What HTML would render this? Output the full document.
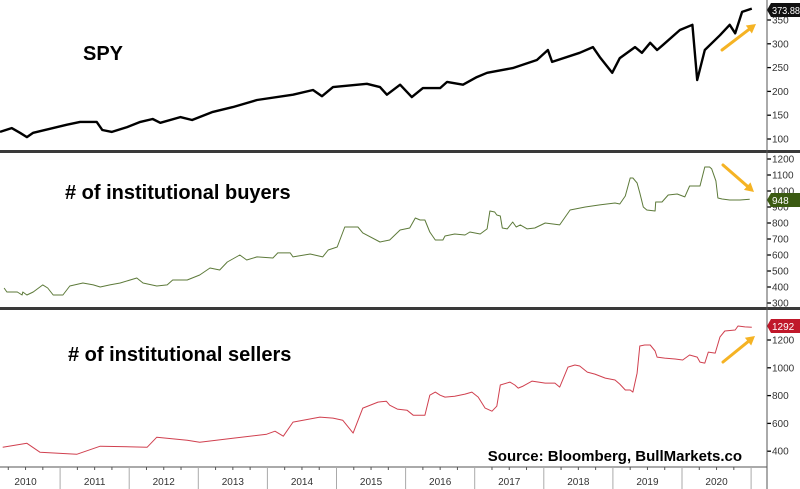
<!DOCTYPE html>
<html><head><meta charset="utf-8"><style>
html,body{margin:0;padding:0;background:#fff;}
svg{display:block;font-family:"Liberation Sans",sans-serif;}
</style></head><body>
<svg id="c" width="800" height="489" viewBox="0 0 800 489">
<rect width="800" height="489" fill="#fff"/>
</svg>
<script>
const spyDates=[2010.13,2010.30,2010.42,2010.52,2010.61,2011.10,2011.29,2011.53,2011.61,2011.75,2011.97,2012.16,2012.34,2012.45,2012.74,2012.91,2013.21,2013.50,2013.85,2014.37,2014.66,2014.79,2014.95,2015.44,2015.63,2015.73,2015.92,2016.09,2016.25,2016.50,2016.60,2016.83,2017.03,2017.18,2017.55,2017.90,2018.06,2018.12,2018.52,2018.71,2018.81,2018.99,2019.10,2019.32,2019.42,2019.54,2019.64,2019.72,2019.97,2020.15,2020.22,2020.33,2020.55,2020.69,2020.77,2020.87,2021.01];
const spyValues=[115,123,113,104,113,130,136,136,119,115,125,136,142,134,146,140,157,167,182,193,203,190,209,216,209,193,214,188,207,207,220,214,230,239,249,266,287,262,281,293,272,239,270,293,281,302,287,297,329,340,224,287,318,340,322,367,374];
const buyDates=[2010.19,2010.23,2010.38,2010.45,2010.46,2010.52,2010.61,2010.75,2010.82,2010.90,2011.04,2011.14,2011.33,2011.48,2011.58,2011.72,2011.87,2012.11,2012.20,2012.40,2012.55,2012.63,2012.84,2013.02,2013.17,2013.31,2013.42,2013.60,2013.70,2013.85,2014.08,2014.15,2014.33,2014.37,2014.62,2014.80,2014.88,2015.01,2015.12,2015.31,2015.38,2015.63,2015.77,2015.92,2016.06,2016.14,2016.21,2016.28,2016.35,2016.43,2016.54,2016.57,2016.71,2016.86,2016.93,2017.08,2017.18,2017.22,2017.29,2017.32,2017.37,2017.40,2017.47,2017.55,2017.60,2017.66,2017.76,2017.87,2018.02,2018.23,2018.38,2018.60,2018.81,2019.03,2019.10,2019.18,2019.25,2019.29,2019.35,2019.39,2019.44,2019.49,2019.61,2019.62,2019.71,2019.80,2019.93,2020.04,2020.11,2020.26,2020.33,2020.40,2020.43,2020.49,2020.52,2020.58,2020.69,2020.84,2020.98];
const buyValues=[394,369,369,350,369,350,369,413,394,350,350,406,425,413,400,413,425,456,425,406,413,444,444,475,519,506,556,600,569,588,581,613,613,588,606,588,631,650,775,775,738,681,694,756,769,831,819,819,744,694,694,719,731,725,744,731,763,875,869,850,844,769,763,806,775,788,763,769,800,788,881,900,913,925,919,969,1081,1081,1050,988,900,881,875,931,931,975,981,963,1031,1031,1150,1150,1138,1063,956,950,944,944,948];
const sellDates=[2010.17,2010.52,2010.71,2011.24,2011.58,2012.26,2012.40,2012.84,2013.02,2013.50,2013.99,2014.11,2014.23,2014.37,2014.76,2014.95,2015.09,2015.24,2015.38,2015.60,2015.72,2015.77,2015.88,2016.02,2016.11,2016.28,2016.35,2016.43,2016.50,2016.57,2016.71,2016.86,2016.96,2017.05,2017.15,2017.25,2017.32,2017.37,2017.51,2017.58,2017.63,2017.70,2017.83,2018.02,2018.16,2018.23,2018.35,2018.45,2018.52,2018.63,2018.74,2018.89,2019.03,2019.10,2019.18,2019.25,2019.29,2019.35,2019.39,2019.46,2019.54,2019.61,2019.64,2019.75,2019.90,2020.01,2020.11,2020.22,2020.26,2020.33,2020.38,2020.48,2020.55,2020.62,2020.77,2020.81,2020.91,2021.01];
const sellValues=[429,457,392,378,436,429,501,479,465,493,522,544,508,609,645,638,623,530,710,753,760,731,703,695,659,659,803,825,803,789,796,811,825,789,710,688,724,876,897,876,854,868,904,890,890,861,1005,1020,1013,969,955,926,912,883,840,840,825,962,1157,1164,1164,1121,1077,1070,1063,1056,1092,1077,1041,1034,1113,1106,1222,1265,1272,1301,1294,1292];
const spyTicks=[100,150,200,250,300,350];
const buyTicks=[300,400,500,600,700,800,900,1000,1100,1200];
const sellTicks=[400,600,800,1000,1200];
const yearLabels=["2010","2011","2012","2013","2014","2015","2016","2017","2018","2019","2020"];

const NS="http://www.w3.org/2000/svg";
const svg=document.getElementById('c');
function mk(tag,attrs,parent){const e=document.createElementNS(NS,tag);for(const k in attrs)e.setAttribute(k,attrs[k]);(parent||svg).appendChild(e);return e;}
const AX=767;
const xS=t=>-9+(t-2010)*69.1;
const panels=[
 {name:'spy',dates:spyDates,vals:spyValues,ticks:spyTicks,y:v=>20+(350-v)*0.476,col:'#000',w:2.4,tag:'373.88',tagBg:'#111',tagY:10,title:'SPY',tx:83,ty:60},
 {name:'buyers',dates:buyDates,vals:buyValues,ticks:buyTicks,y:v=>159+(1200-v)*0.16,col:'#5d7a3a',w:1,tag:'948',tagBg:'#3b5a12',tagY:200,title:'# of institutional buyers',tx:65,ty:199},
 {name:'sellers',dates:sellDates,vals:sellValues,ticks:sellTicks,y:v=>340+(1200-v)*0.139,col:'#d0404f',w:1,tag:'1292',tagBg:'#c0182a',tagY:326,title:'# of institutional sellers',tx:68,ty:361}
];
panels.forEach(p=>{
 const g=mk('g',{});
 
 
 p.ticks.forEach(v=>{
  const y=p.y(v);
  const t=mk('line',{x1:AX,x2:AX+4,y1:y,y2:y,stroke:'#000','stroke-width':1.3},g);
  
  
  const l=mk('text',{x:AX+5,y:y+3.5,'font-size':10,fill:'#333'},g);
  l.textContent=v;
  
  
 });
 const d=p.dates.map((t,i)=>(i?'L':'M')+xS(t).toFixed(1)+','+p.y(p.vals[i]).toFixed(1)).join('');
 const path=mk('path',{d:d,fill:'none',stroke:p.col,'stroke-width':p.w,'stroke-linejoin':'round'},g);
 
 
 const ti=mk('text',{x:p.tx,y:p.ty,'font-size':20,'font-weight':'bold',fill:'#000'},g);
 ti.textContent=p.title;
 
 
 const ty=p.tagY;
 const tg=mk('path',{d:`M${AX},${ty} L${AX+4},${ty-7} L800,${ty-7} L800,${ty+7} L${AX+4},${ty+7} Z`,fill:p.tagBg},g);
 
 
 const ta={x:AX+5,y:ty+4,'font-size':10,fill:'#fff'};
 if(p.tag.length>4){ta.textLength=28;ta.lengthAdjust='spacingAndGlyphs';}
 const tt=mk('text',ta,g);
 tt.textContent=p.tag;
 
 
});
[151,308].forEach(s=>{
 const r=mk('rect',{x:0,y:s-1,width:800,height:3,fill:'#3a3a3a'});
 
 
});
const ax=mk('line',{x1:AX,x2:AX,y1:0,y2:489,stroke:'#555','stroke-width':1});


const xl=mk('line',{x1:0,x2:AX,y1:467,y2:467,stroke:'#555','stroke-width':1});


yearLabels.forEach((yl,i)=>{
 const yr=2010+i;
 const b=xS(yr+1);
 if(b<AX){const ln=mk('line',{x1:b,x2:b,y1:467,y2:489,stroke:'#aaa','stroke-width':1});
 
 }
 for(let q=1;q<4;q++){const mx=xS(yr+q/4);const m=mk('line',{x1:mx,x2:mx,y1:467,y2:470,stroke:'#555','stroke-width':1});
 
 }
 const t=mk('text',{x:xS(yr+0.5),y:485,'font-size':10,fill:'#333','text-anchor':'middle'});
 t.textContent=yl;
 
 
});
const src=mk('text',{x:742,y:461,'font-size':15,'font-weight':'bold',fill:'#000','text-anchor':'end'});
src.textContent='Source: Bloomberg, BullMarkets.co';


[[722,50,756,24],[723,165,754,192],[723,362,755,336]].forEach(a=>{
 const [x1,y1,x2,y2]=a;const ang=Math.atan2(y2-y1,x2-x1);
 const g=mk('g',{});
 
 
 mk('line',{x1:x1,y1:y1,x2:x2-6*Math.cos(ang),y2:y2-6*Math.sin(ang),stroke:'#f5b324','stroke-width':3,'stroke-linecap':'round'},g);
 const h=9,w=5;
 const bx=x2-h*Math.cos(ang),by=y2-h*Math.sin(ang);
 mk('path',{d:`M${x2},${y2} L${bx+w*Math.sin(ang)},${by-w*Math.cos(ang)} L${bx-w*Math.sin(ang)},${by+w*Math.cos(ang)} Z`,fill:'#f5b324'},g);
});
</script>
</body></html>
